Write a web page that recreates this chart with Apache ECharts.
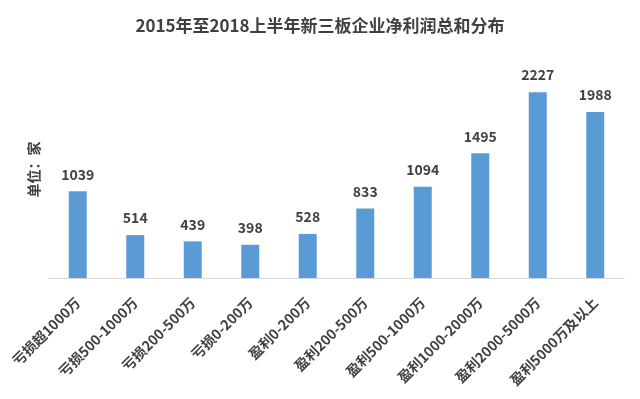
<!DOCTYPE html>
<html>
<head>
<meta charset="utf-8">
<script src="https://cdn.jsdelivr.net/npm/echarts@6/dist/echarts.min.js"></script>
<style>
  html, body { margin: 0; padding: 0; background: #fff; }
  #chart { width: 640px; height: 399px; }
</style>
</head>
<body>
<div id="chart"></div>
<script>
const categories = [
  "亏损超1000万", "亏损500-1000万", "亏损200-500万", "亏损0-200万", "盈利0-200万",
  "盈利200-500万", "盈利500-1000万", "盈利1000-2000万", "盈利2000-5000万", "盈利5000万及以上"
];
const counts = [1039, 514, 439, 398, 528, 833, 1094, 1495, 2227, 1988];

const font = "'Noto Sans CJK SC', sans-serif";
const chart = echarts.init(document.getElementById("chart"));

chart.setOption({
  backgroundColor: "#fff",
  title: {
    text: "2015年至2018上半年新三板企业净利润总和分布",
    left: "center",
    top: 12,
    textStyle: { fontFamily: font, fontSize: 17, fontWeight: "bold", color: "#404040" },
  },
  grid: { left: 49, right: 16, top: 61, bottom: 121 },
  xAxis: {
    type: "category",
    data: categories,
    axisLine: { lineStyle: { color: "#d9d9d9" } },
    axisTick: { show: false },
    axisLabel: {
      interval: 0,
      rotate: 45,
      margin: 22,
      fontFamily: font,
      fontSize: 14,
      fontWeight: "bold",
      color: "#404040",
    },
  },
  yAxis: {
    type: "value",
    min: 0,
    max: 2600,
    name: "单位：家",
    nameLocation: "middle",
    nameRotate: 90,
    nameGap: 8,
    nameTextStyle: { fontFamily: font, fontSize: 14, fontWeight: "bold", color: "#404040" },
    axisLine: { show: false },
    axisTick: { show: false },
    axisLabel: { show: false },
    splitLine: { show: false },
  },
  series: [
    {
      type: "bar",
      data: counts,
      barWidth: 18,
      itemStyle: { color: "#5b9bd5" },
      label: {
        show: true,
        position: "top",
        distance: 10,
        fontFamily: font,
        fontSize: 14,
        fontWeight: "bold",
        color: "#404040",
      },
    },
  ],
});
</script>
</body>
</html>
